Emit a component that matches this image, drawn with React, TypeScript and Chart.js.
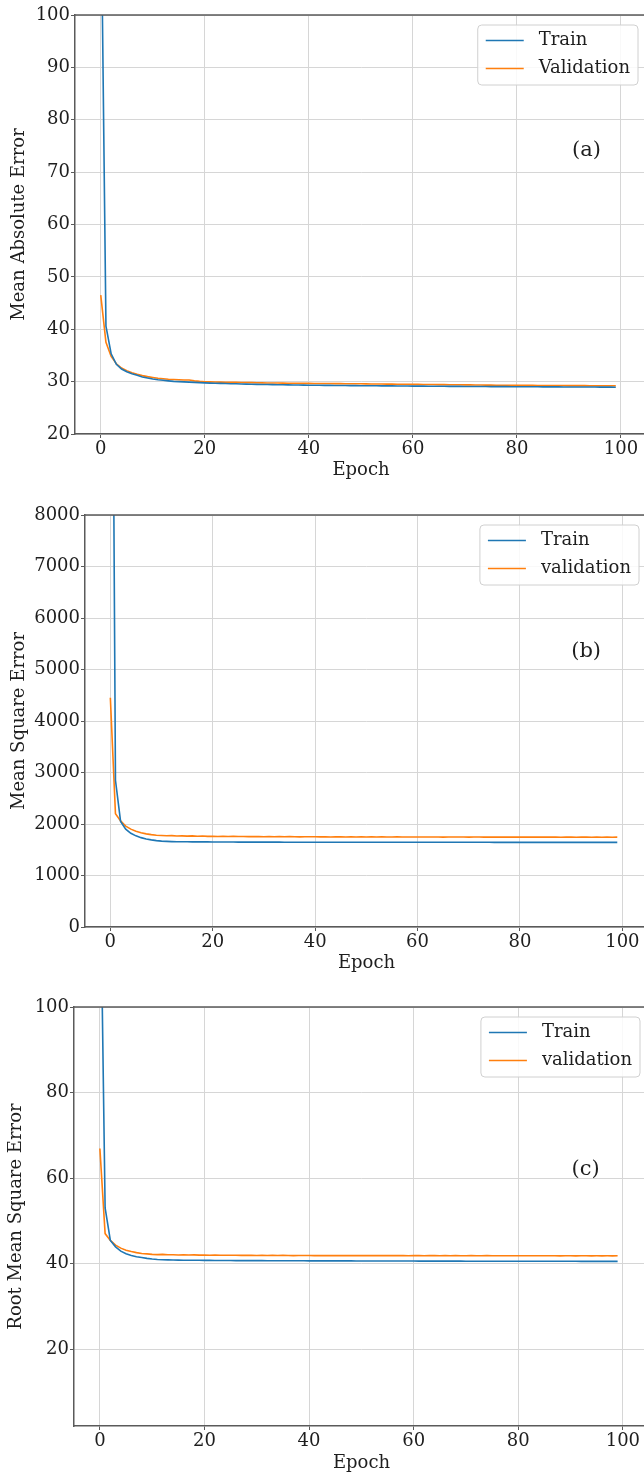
import React, { useEffect, useRef } from "react";
import { Chart, registerables } from "chart.js";

Chart.register(...registerables);

// ---------------- data ----------------
const EPOCHS = [
  0, 1, 2, 3, 4, 5, 6, 7, 8, 9,
  10, 11, 12, 13, 14, 15, 16, 17, 18, 19,
  20, 21, 22, 23, 24, 25, 26, 27, 28, 29,
  30, 31, 32, 33, 34, 35, 36, 37, 38, 39,
  40, 41, 42, 43, 44, 45, 46, 47, 48, 49,
  50, 51, 52, 53, 54, 55, 56, 57, 58, 59,
  60, 61, 62, 63, 64, 65, 66, 67, 68, 69,
  70, 71, 72, 73, 74, 75, 76, 77, 78, 79,
  80, 81, 82, 83, 84, 85, 86, 87, 88, 89,
  90, 91, 92, 93, 94, 95, 96, 97, 98, 99,
];

const X_TICKS = [0, 20, 40, 60, 80, 100];

const MAE_Y_TICKS = [20, 30, 40, 50, 60, 70, 80, 90, 100];
const MSE_Y_TICKS = [0, 1000, 2000, 3000, 4000, 5000, 6000, 7000, 8000];
const RMSE_Y_TICKS = [20, 40, 60, 80, 100];

const MAE_TRAIN = [
  128, 40.6, 35.3, 33.3, 32.4, 31.9, 31.5, 31.2, 30.9, 30.7,
  30.5, 30.35, 30.25, 30.15, 30.05, 30.0, 29.95, 29.9, 29.85, 29.8,
  29.76, 29.72, 29.69, 29.66, 29.63, 29.6, 29.58, 29.55, 29.53, 29.5,
  29.48, 29.46, 29.44, 29.42, 29.41, 29.39, 29.38, 29.36, 29.35, 29.34,
  29.32, 29.31, 29.3, 29.29, 29.28, 29.27, 29.26, 29.25, 29.24, 29.23,
  29.22, 29.21, 29.21, 29.2, 29.19, 29.18, 29.18, 29.17, 29.16, 29.16,
  29.15, 29.14, 29.14, 29.13, 29.12, 29.12, 29.11, 29.1, 29.1, 29.09,
  29.08, 29.08, 29.07, 29.07, 29.06, 29.05, 29.05, 29.04, 29.04, 29.03,
  29.03, 29.02, 29.02, 29.01, 29.01, 29.0, 29.0, 28.99, 28.99, 28.98,
  28.98, 28.97, 28.97, 28.97, 28.96, 28.96, 28.95, 28.95, 28.95, 28.94,
];

const MAE_VAL = [
  46.5, 37.5, 34.8, 33.4, 32.6, 32.1, 31.7, 31.4, 31.15, 30.95,
  30.8, 30.65, 30.55, 30.45, 30.4, 30.35, 30.3, 30.32, 30.15, 30.05,
  29.98, 29.95, 29.93, 29.91, 29.89, 29.87, 29.86, 29.84, 29.82, 29.8,
  29.78, 29.77, 29.75, 29.74, 29.73, 29.71, 29.7, 29.69, 29.68, 29.67,
  29.66, 29.65, 29.64, 29.63, 29.63, 29.62, 29.61, 29.6, 29.6, 29.59,
  29.58, 29.57, 29.56, 29.55, 29.54, 29.53, 29.52, 29.51, 29.5, 29.49,
  29.48, 29.47, 29.46, 29.45, 29.44, 29.43, 29.42, 29.41, 29.4, 29.39,
  29.38, 29.37, 29.36, 29.35, 29.34, 29.33, 29.32, 29.31, 29.3, 29.3,
  29.29, 29.29, 29.28, 29.28, 29.27, 29.27, 29.26, 29.26, 29.25, 29.25,
  29.24, 29.24, 29.23, 29.23, 29.22, 29.22, 29.21, 29.21, 29.2, 29.2,
];

const MSE_TRAIN = [
  19500, 2850, 2050, 1900, 1820, 1770, 1735, 1710, 1692, 1678,
  1668, 1662, 1658, 1656, 1655, 1654, 1653, 1653, 1652, 1652,
  1651, 1651, 1650, 1650, 1650, 1649, 1649, 1649, 1649, 1648,
  1648, 1648, 1648, 1648, 1647, 1647, 1647, 1647, 1647, 1647,
  1647, 1647, 1646, 1646, 1646, 1646, 1646, 1646, 1646, 1646,
  1646, 1646, 1646, 1646, 1646, 1645, 1645, 1645, 1645, 1645,
  1645, 1645, 1645, 1645, 1645, 1645, 1645, 1645, 1645, 1645,
  1645, 1645, 1645, 1645, 1645, 1644, 1644, 1644, 1644, 1644,
  1644, 1644, 1644, 1644, 1644, 1644, 1644, 1644, 1644, 1644,
  1644, 1644, 1644, 1643, 1643, 1643, 1643, 1643, 1643, 1643,
];

const MSE_VAL = [
  4450, 2200, 2060, 1960, 1900, 1860, 1830, 1808, 1793, 1783,
  1777, 1771, 1775, 1767, 1770, 1764, 1769, 1762, 1766, 1760,
  1763, 1758, 1761, 1757, 1760, 1756, 1758, 1754, 1757, 1755,
  1753, 1756, 1752, 1755, 1751, 1754, 1752, 1750, 1753, 1751,
  1752, 1750, 1753, 1749, 1751, 1750, 1748, 1752, 1749, 1751,
  1749, 1750, 1748, 1751, 1749, 1748, 1750, 1748, 1749, 1747,
  1749, 1748, 1747, 1749, 1748, 1746, 1748, 1747, 1749, 1747,
  1746, 1748, 1747, 1746, 1748, 1746, 1747, 1745, 1747, 1746,
  1745, 1747, 1746, 1745, 1747, 1745, 1746, 1745, 1744, 1746,
  1745, 1744, 1746, 1745, 1744, 1745, 1744, 1745, 1744, 1745,
];

const RMSE_TRAIN = [
  140, 53.0, 45.4, 43.9, 42.9, 42.3, 41.9, 41.6, 41.4, 41.2,
  41.05, 40.95, 40.9, 40.85, 40.82, 40.8, 40.78, 40.77, 40.76, 40.75,
  40.74, 40.73, 40.72, 40.71, 40.7, 40.7, 40.69, 40.69, 40.68, 40.68,
  40.67, 40.67, 40.66, 40.66, 40.65, 40.65, 40.65, 40.64, 40.64, 40.64,
  40.63, 40.63, 40.63, 40.62, 40.62, 40.62, 40.61, 40.61, 40.61, 40.6,
  40.6, 40.6, 40.6, 40.59, 40.59, 40.59, 40.59, 40.58, 40.58, 40.58,
  40.58, 40.57, 40.57, 40.57, 40.57, 40.56, 40.56, 40.56, 40.56, 40.56,
  40.55, 40.55, 40.55, 40.55, 40.55, 40.54, 40.54, 40.54, 40.54, 40.54,
  40.54, 40.53, 40.53, 40.53, 40.53, 40.53, 40.52, 40.52, 40.52, 40.52,
  40.52, 40.52, 40.51, 40.51, 40.51, 40.51, 40.51, 40.5, 40.5, 40.5,
];

const RMSE_VAL = [
  66.9, 47.0, 45.4, 44.3, 43.6, 43.1, 42.8, 42.55, 42.35, 42.25,
  42.15, 42.08, 42.13, 42.04, 42.07, 42.0, 42.05, 41.98, 42.02, 41.96,
  42.0, 41.94, 41.97, 41.93, 41.95, 41.92, 41.94, 41.9, 41.93, 41.91,
  41.89, 41.92, 41.88, 41.91, 41.87, 41.9, 41.88, 41.86, 41.89, 41.87,
  41.88, 41.86, 41.89, 41.85, 41.87, 41.86, 41.84, 41.88, 41.85, 41.87,
  41.85, 41.86, 41.84, 41.87, 41.85, 41.84, 41.86, 41.84, 41.85, 41.83,
  41.85, 41.84, 41.83, 41.85, 41.84, 41.82, 41.84, 41.83, 41.85, 41.83,
  41.82, 41.84, 41.83, 41.82, 41.84, 41.82, 41.83, 41.81, 41.83, 41.82,
  41.81, 41.83, 41.82, 41.81, 41.83, 41.81, 41.82, 41.81, 41.8, 41.82,
  41.81, 41.8, 41.82, 41.81, 41.8, 41.81, 41.8, 41.81, 41.8, 41.81,
];

// ---------------- styling ----------------
const FAMILY = "'DejaVu Serif', serif";
const TEXT = "#1e1e1e";
const GRID = "#d6d6d6";
const SPINE = "#5a5a5a";
const BLUE = "#1f77b4";
const ORANGE = "#ff7f0e";
const CANVAS_W = 700;

type Panel = {
  key: string;
  top: number;
  height: number;
  yLeft: number;
  rightPad: number;
  padTop: number;
  xAxisHeight: number;
  xTitlePadBottom: number;
  yTitlePad: number;
  yMin: number;
  yMax: number;
  yTicks: number[];
  yTitle: string;
  train: number[];
  val: number[];
  names: string[];
  tag: string;
  tagX: number;
  tagY: number;
};

const PANELS: Panel[] = [
  {
    key: "a", top: 0, height: 500, yLeft: 75, rightPad: 53, padTop: 15,
    xAxisHeight: 66, xTitlePadBottom: 19, yTitlePad: 9,
    yMin: 20, yMax: 100, yTicks: MAE_Y_TICKS, yTitle: "Mean Absolute Error",
    train: MAE_TRAIN, val: MAE_VAL, names: ["Train", "Validation"],
    tag: "(a)", tagX: 90.6, tagY: 73,
  },
  {
    key: "b", top: 500, height: 492, yLeft: 85, rightPad: 52, padTop: 15,
    xAxisHeight: 65, xTitlePadBottom: 18, yTitlePad: 9,
    yMin: 0, yMax: 8000, yTicks: MSE_Y_TICKS, yTitle: "Mean Square Error",
    train: MSE_TRAIN, val: MSE_VAL, names: ["Train", "validation"],
    tag: "(b)", tagX: 90, tagY: 5250,
  },
  {
    key: "c", top: 992, height: 484, yLeft: 74, rightPad: 51, padTop: 15,
    xAxisHeight: 50, xTitlePadBottom: 2, yTitlePad: 6,
    yMin: 2, yMax: 100, yTicks: RMSE_Y_TICKS, yTitle: "Root Mean Square Error",
    train: RMSE_TRAIN, val: RMSE_VAL, names: ["Train", "validation"],
    tag: "(c)", tagX: 90.2, tagY: 60.6,
  },
];

function roundRectPath(ctx: CanvasRenderingContext2D, x: number, y: number, w: number, h: number, r: number) {
  ctx.beginPath();
  ctx.moveTo(x + r, y);
  ctx.lineTo(x + w - r, y);
  ctx.arcTo(x + w, y, x + w, y + r, r);
  ctx.lineTo(x + w, y + h - r);
  ctx.arcTo(x + w, y + h, x + w - r, y + h, r);
  ctx.lineTo(x + r, y + h);
  ctx.arcTo(x, y + h, x, y + h - r, r);
  ctx.lineTo(x, y + r);
  ctx.arcTo(x, y, x + r, y, r);
  ctx.closePath();
}

function PanelChart({ spec }: { spec: Panel }) {
  const ref = useRef<HTMLCanvasElement | null>(null);

  useEffect(() => {
    if (!ref.current) return;
    const p = spec;

    const decor = {
      id: "decor_" + p.key,
      afterDatasetsDraw(chart: any) {
        const { ctx, chartArea: a } = chart;
        ctx.save();
        // top spine
        ctx.strokeStyle = SPINE;
        ctx.lineWidth = 1.5;
        ctx.beginPath();
        ctx.moveTo(a.left, a.top);
        ctx.lineTo(a.right, a.top);
        ctx.stroke();

        // panel tag
        const xs = chart.scales.x;
        const ys = chart.scales.y;
        ctx.fillStyle = TEXT;
        ctx.font = `21px ${FAMILY}`;
        ctx.textAlign = "left";
        ctx.textBaseline = "alphabetic";
        ctx.fillText(p.tag, xs.getPixelForValue(p.tagX), ys.getPixelForValue(p.tagY));

        // legend
        ctx.font = `18px ${FAMILY}`;
        const ds = chart.data.datasets;
        const tw = Math.max(...ds.map((d: any) => ctx.measureText(d.label).width));
        const right = a.right - 9;
        const top = a.top + 10;
        const w = 8 + 38 + 15 + tw + 8;
        const left = right - w;
        const h = 60;
        roundRectPath(ctx, left, top, w, h, 4);
        ctx.fillStyle = "rgba(255,255,255,0.85)";
        ctx.fill();
        ctx.strokeStyle = "#d0d0d0";
        ctx.lineWidth = 1;
        ctx.stroke();
        const rows = [top + 15.5, top + 43.5];
        ds.forEach((d: any, i: number) => {
          const y = rows[i];
          ctx.strokeStyle = d.borderColor;
          ctx.lineWidth = 1.5;
          ctx.beginPath();
          ctx.moveTo(left + 8, y);
          ctx.lineTo(left + 46, y);
          ctx.stroke();
          ctx.fillStyle = TEXT;
          ctx.textBaseline = "middle";
          ctx.fillText(d.label, left + 61, y);
        });
        ctx.restore();
      },
    };

    const tickFont = { family: FAMILY, size: 18 };

    const chart = new Chart(ref.current, {
      type: "line",
      data: {
        labels: EPOCHS,
        datasets: [
          {
            label: p.names[0],
            data: p.train,
            borderColor: BLUE,
            backgroundColor: BLUE,
            borderWidth: 1.6,
            pointRadius: 0,
            fill: false,
            tension: 0,
          },
          {
            label: p.names[1],
            data: p.val,
            borderColor: ORANGE,
            backgroundColor: ORANGE,
            borderWidth: 1.6,
            pointRadius: 0,
            fill: false,
            tension: 0,
          },
        ],
      },
      options: {
        animation: false,
        responsive: false,
        devicePixelRatio: 1,
        layout: { padding: { top: p.padTop, right: p.rightPad, left: 0, bottom: 0 } },
        plugins: { legend: { display: false }, tooltip: { enabled: false } },
        scales: {
          x: {
            type: "linear",
            min: -4.95,
            max: 105,
            afterBuildTicks: (s: any) => {
              s.ticks = X_TICKS.map((v) => ({ value: v }));
            },
            afterFit: (s: any) => {
              s.height = p.xAxisHeight;
            },
            ticks: {
              font: tickFont,
              color: TEXT,
              padding: 1,
              maxRotation: 0,
              autoSkip: false,
              callback: (v: any) => String(v),
            },
            grid: { color: GRID, lineWidth: 1, tickLength: 4, tickColor: SPINE, drawTicks: true },
            border: { color: SPINE, width: 1.5 },
            title: {
              display: true,
              text: "Epoch",
              color: TEXT,
              font: tickFont,
              padding: { top: 0, bottom: p.xTitlePadBottom },
            },
          },
          y: {
            type: "linear",
            min: p.yMin,
            max: p.yMax,
            afterBuildTicks: (s: any) => {
              s.ticks = p.yTicks.map((v) => ({ value: v }));
            },
            afterFit: (s: any) => {
              s.width = p.yLeft;
            },
            ticks: {
              font: tickFont,
              color: TEXT,
              padding: 1,
              autoSkip: false,
              callback: (v: any) => String(v),
            },
            grid: { color: GRID, lineWidth: 1, tickLength: 4, tickColor: SPINE, drawTicks: true },
            border: { color: SPINE, width: 1.5 },
            title: {
              display: true,
              text: p.yTitle,
              color: TEXT,
              font: tickFont,
              padding: { top: p.yTitlePad, bottom: 0 },
            },
          },
        },
      },
      plugins: [decor],
    } as any);

    return () => chart.destroy();
  }, [spec]);

  return (
    <canvas
      ref={ref}
      width={CANVAS_W}
      height={spec.height}
      style={{
        position: "absolute",
        left: 0,
        top: spec.top,
        width: CANVAS_W,
        height: spec.height,
      }}
    />
  );
}

export default function App() {
  return (
    <div
      style={{
        position: "absolute",
        left: 0,
        top: 0,
        width: 644,
        height: 1476,
        overflow: "hidden",
        background: "#ffffff",
      }}
    >
      {PANELS.map((p) => (
        <PanelChart key={p.key} spec={p} />
      ))}
    </div>
  );
}
